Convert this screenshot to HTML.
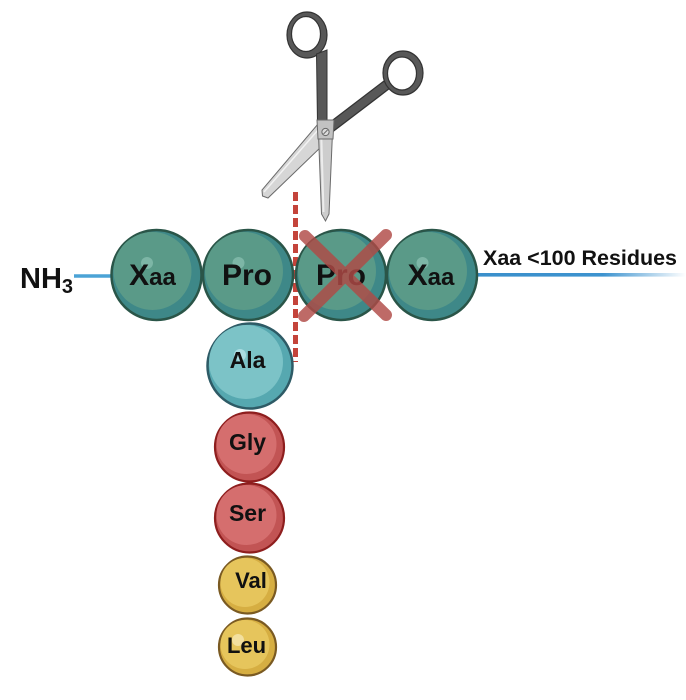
<!DOCTYPE html>
<html>
<head>
<meta charset="utf-8">
<style>
  html,body{margin:0;padding:0;background:#ffffff;}
  svg{display:block;}
  text{font-family:"Liberation Sans",Arial,sans-serif;font-weight:bold;fill:#111;}
</style>
</head>
<body>
<svg width="686" height="700" viewBox="0 0 686 700" xmlns="http://www.w3.org/2000/svg">
  <defs>
    <linearGradient id="fade" x1="478" y1="0" x2="686" y2="0" gradientUnits="userSpaceOnUse">
      <stop offset="0" stop-color="#3a8fcb"/>
      <stop offset="0.6" stop-color="#3d93cf"/>
      <stop offset="1" stop-color="#3d93cf" stop-opacity="0"/>
    </linearGradient>
  </defs>

  <!-- backbone lines -->
  <line x1="74" y1="276" x2="112" y2="276" stroke="#4ba3d6" stroke-width="3.5"/>
  <rect x="476" y="273" width="210" height="3.6" fill="url(#fade)"/>

  <!-- Scissors -->
  <g>
    <!-- right arm -->
    <line x1="389" y1="83" x2="330" y2="128" stroke="#333" stroke-width="10.5"/>
    <line x1="389" y1="83" x2="330" y2="128" stroke="#585858" stroke-width="8"/>
    <!-- right ring -->
    <path fill-rule="evenodd" fill="#585858" stroke="#333" stroke-width="1.2"
      d="M383,73 a20,22 0 1,0 40,0 a20,22 0 1,0 -40,0 Z M387.5,73.5 a14.5,16.5 0 1,0 29,0 a14.5,16.5 0 1,0 -29,0 Z"/>
    <!-- left ring -->
    <path fill-rule="evenodd" fill="#585858" stroke="#333" stroke-width="1.2"
      d="M287,35 a20,23 0 1,0 40,0 a20,23 0 1,0 -40,0 Z M291.5,34 a14.5,17.5 0 1,0 29,0 a14.5,17.5 0 1,0 -29,0 Z"/>
    <!-- left shank -->
    <polygon points="316.5,54 327,50 327,123 317.5,123" fill="#585858" stroke="#333" stroke-width="1"/>
    <!-- blade 1 -->
    <polygon points="318,124 322,146 268,198 262.5,196 262,190" fill="#d6d6d6" stroke="#6a6a6a" stroke-width="1"/>
    <polyline points="318,130 264,192" stroke="#f2f2f2" stroke-width="1.5" fill="none"/>
    <!-- blade 2 -->
    <polygon points="318,121 333,121 329,214 325.5,221 321.5,214" fill="#cdcdcd" stroke="#6a6a6a" stroke-width="1"/>
    <polyline points="321,126 323.5,212" stroke="#ececec" stroke-width="2" fill="none"/>
    <!-- pivot plate -->
    <polygon points="317,120 334,120 333,139 318,139" fill="#c2c2c2" stroke="#6a6a6a" stroke-width="1"/>
    <circle cx="325.5" cy="132" r="3.6" fill="#dcdcdc" stroke="#666" stroke-width="1"/>
    <line x1="323.5" y1="134" x2="327.5" y2="130" stroke="#666" stroke-width="0.9"/>
  </g>

  <!-- red dashed cut line -->
  <line x1="295.5" y1="192" x2="295.5" y2="362" stroke="#c4443b" stroke-width="5" stroke-dasharray="9 4"/>

  <!-- Main chain residues (teal) -->
  <g>
    <circle cx="156.5" cy="275" r="45" fill="#3e8888" stroke="#2a5548" stroke-width="2.5"/>
    <circle cx="152.5" cy="271" r="39" fill="#5a9a88"/>
    <circle cx="147" cy="263" r="6" fill="#86bdae" opacity="0.8"/>
  </g>
  <g>
    <circle cx="248" cy="275" r="45" fill="#3e8888" stroke="#2a5548" stroke-width="2.5"/>
    <circle cx="244" cy="271" r="39" fill="#5a9a88"/>
    <circle cx="238.5" cy="263" r="6" fill="#86bdae" opacity="0.8"/>
  </g>
  <g>
    <circle cx="341" cy="275" r="45" fill="#3e8888" stroke="#2a5548" stroke-width="2.5"/>
    <circle cx="337" cy="271" r="39" fill="#5a9a88"/>
  </g>
  <g>
    <circle cx="432" cy="275" r="45" fill="#3e8888" stroke="#2a5548" stroke-width="2.5"/>
    <circle cx="428" cy="271" r="39" fill="#5a9a88"/>
    <circle cx="422.5" cy="263" r="6" fill="#86bdae" opacity="0.8"/>
  </g>

  <!-- Ala -->
  <g>
    <circle cx="250" cy="366" r="42.5" fill="#56a8b0" stroke="#2e5b66" stroke-width="2.5"/>
    <circle cx="246" cy="362" r="37" fill="#7cc3c7"/>
    <circle cx="240" cy="355" r="6" fill="#b6e3e8" opacity="0.8"/>
  </g>
  <!-- Gly -->
  <g>
    <circle cx="249.5" cy="447" r="34.5" fill="#c25454" stroke="#8e1e1e" stroke-width="2.2"/>
    <circle cx="246.5" cy="444" r="30" fill="#d56e6e"/>
  </g>
  <!-- Ser -->
  <g>
    <circle cx="249.5" cy="518" r="34.5" fill="#c25454" stroke="#8e1e1e" stroke-width="2.2"/>
    <circle cx="246.5" cy="515" r="30" fill="#d56e6e"/>
  </g>
  <!-- Val -->
  <g>
    <circle cx="247.5" cy="585" r="28.5" fill="#d6ae42" stroke="#7a5a22" stroke-width="2.2"/>
    <circle cx="245" cy="582.5" r="24.5" fill="#e6c55c"/>
  </g>
  <!-- Leu -->
  <g>
    <circle cx="247.5" cy="647" r="28.5" fill="#d6ae42" stroke="#7a5a22" stroke-width="2.2"/>
    <circle cx="245" cy="644.5" r="24.5" fill="#e6c55c"/>
    <circle cx="238" cy="640" r="6" fill="#f4e2a6" opacity="0.9"/>
  </g>

  <!-- Labels -->
  <text x="20" y="288" font-size="29">NH<tspan font-size="20" dy="5">3</tspan></text>

  <text x="152.5" y="285" text-anchor="middle" font-size="30">X<tspan font-size="24">aa</tspan></text>
  <text x="247" y="285" text-anchor="middle" font-size="30">Pro</text>
  <text x="341" y="285" text-anchor="middle" font-size="30">Pro</text>
  <text x="431" y="285" text-anchor="middle" font-size="30">X<tspan font-size="24">aa</tspan></text>

  <text x="247.5" y="368" text-anchor="middle" font-size="23">Ala</text>
  <text x="247.5" y="450" text-anchor="middle" font-size="23">Gly</text>
  <text x="247.5" y="521" text-anchor="middle" font-size="23">Ser</text>
  <text x="251" y="588" text-anchor="middle" font-size="22">Val</text>
  <text x="246.5" y="653" text-anchor="middle" font-size="22">Leu</text>

  <text x="483" y="265" font-size="21.5" textLength="194" lengthAdjust="spacingAndGlyphs">Xaa &lt;100 Residues</text>

  <!-- red cross over Pro -->
  <g stroke="#b04a46" stroke-width="12" stroke-linecap="round" opacity="0.82">
    <line x1="305" y1="236" x2="386" y2="315"/>
    <line x1="386" y1="235" x2="304" y2="316"/>
  </g>
</svg>
</body>
</html>
